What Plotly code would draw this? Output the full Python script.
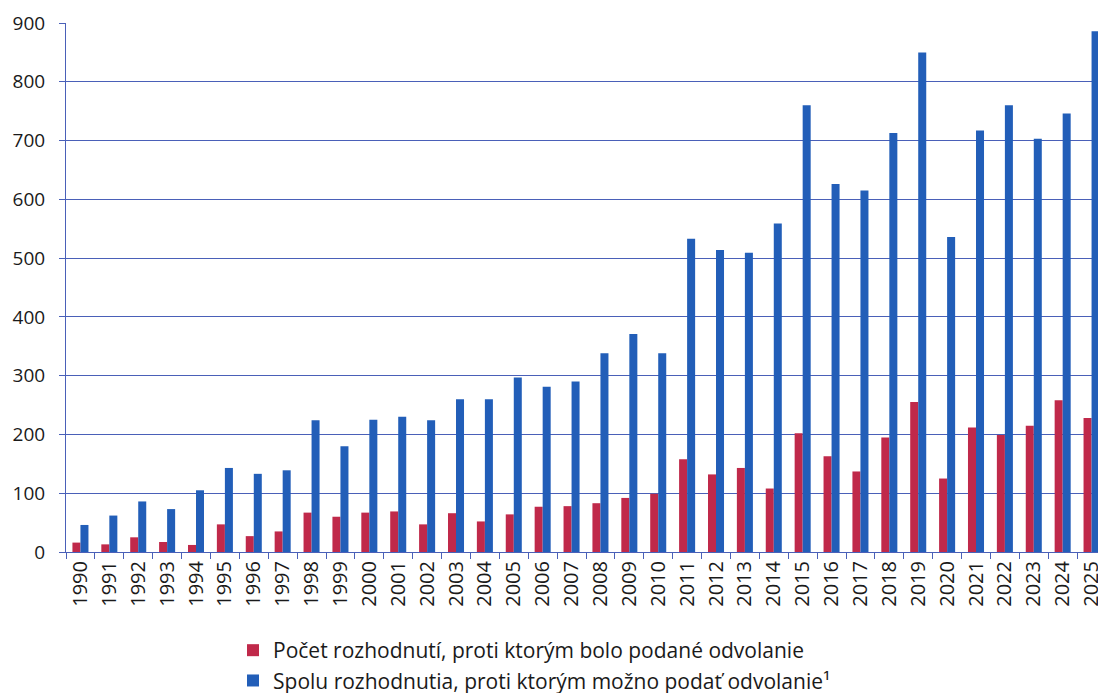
import plotly.graph_objects as go

years = [str(y) for y in range(1990, 2026)]
appealed = [16, 13, 25, 17, 12, 47, 27, 35, 67, 60, 67, 69, 47, 66, 52, 64, 77, 78, 83, 92,
            99, 158, 132, 143, 108, 202, 163, 137, 195, 255, 125, 212, 199, 215, 258, 228]
total = [46, 62, 86, 73, 105, 143, 133, 139, 224, 180, 225, 230, 224, 260, 260, 297, 281, 290,
         338, 371, 338, 533, 514, 509, 559, 760, 626, 615, 713, 850, 536, 717, 760, 703, 746, 886]
y_ticks = [0, 100, 200, 300, 400, 500, 600, 700, 800, 900]

name_red = "Počet rozhodnutí, proti ktorým bolo podané odvolanie"
name_blue = "Spolu rozhodnutia, proti ktorým možno podať odvolanie¹"

RED = "#C0294A"
BLUE = "#225EB8"
GRID = "#4A60B8"
FONT = "Open Sans, Noto Sans, sans-serif"

fig = go.Figure()
fig.add_trace(go.Bar(x=years, y=appealed, name=name_red, marker_color=RED,
                     marker_line_width=0))
fig.add_trace(go.Bar(x=years, y=total, name=name_blue, marker_color=BLUE,
                     marker_line_width=0))

# page body has an 8px default margin, so the figure is offset by (8, 8)
fig.update_layout(
    width=1098, height=710,
    margin=dict(l=58, r=0, t=15, b=166),
    barmode="group", bargap=0.445, bargroupgap=0,
    plot_bgcolor="white", paper_bgcolor="white",
    font=dict(family=FONT, size=20, color="#1a1a1a"),
    legend=dict(orientation="v", x=0.1606, xanchor="left", y=-0.1475, yanchor="top",
                font=dict(size=21, color="#1a1a1a"), traceorder="normal",
                itemwidth=30, bgcolor="rgba(0,0,0,0)"),
    showlegend=True,
)
fig.update_xaxes(
    type="category", tickangle=-90, tickson="boundaries", ticks="outside", ticklen=6,
    tickcolor=GRID, showline=True, linecolor=GRID, linewidth=1, showgrid=False,
    tickfont=dict(size=20), range=[-0.5, 35.5],
)
fig.update_yaxes(
    range=[0, 900], tickvals=y_ticks, ticks="outside", ticklen=6, tickcolor=GRID,
    showline=True, linecolor=GRID, linewidth=1, showgrid=True, gridcolor=GRID, gridwidth=1,
    zeroline=False, tickfont=dict(size=19), ticklabelstandoff=10,
)

fig.write_html("out.html")
